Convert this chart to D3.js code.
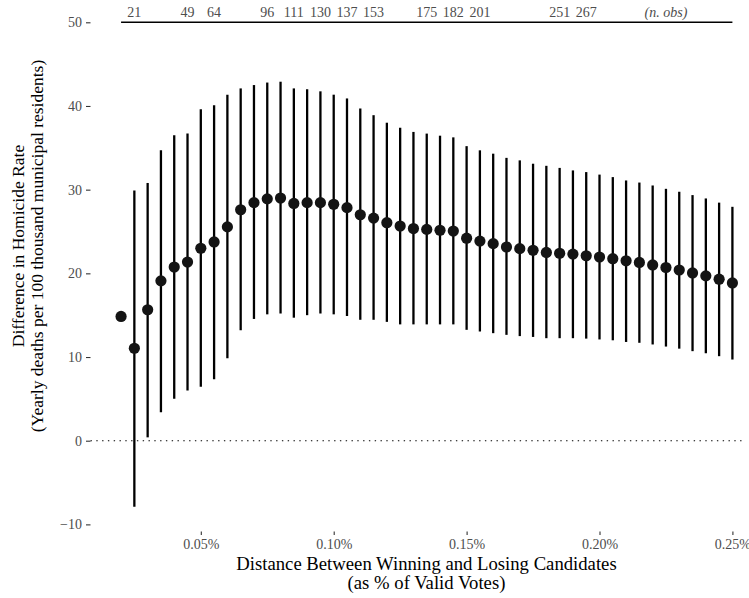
<!DOCTYPE html>
<html>
<head>
<meta charset="utf-8">
<title>Difference in Homicide Rate by bandwidth</title>
<script src="https://cdn.jsdelivr.net/npm/d3@7"></script>
<style>
  body { margin: 0; background: #fff; }
  svg text { font-family: "Liberation Serif", "Times New Roman", serif; }
</style>
</head>
<body>
<svg id="svg"></svg>
<script>

// bandwidths (% of valid votes)
var bandwidth = [0.020, 0.025, 0.030, 0.035, 0.040, 0.045, 0.050, 0.055, 0.060, 0.065,
                 0.070, 0.075, 0.080, 0.085, 0.090, 0.095, 0.100, 0.105, 0.110, 0.115,
                 0.120, 0.125, 0.130, 0.135, 0.140, 0.145, 0.150, 0.155, 0.160, 0.165,
                 0.170, 0.175, 0.180, 0.185, 0.190, 0.195, 0.200, 0.205, 0.210, 0.215,
                 0.220, 0.225, 0.230, 0.235, 0.240, 0.245, 0.250];

// point estimates
var estimate = [14.85, 11.05, 15.65, 19.1, 20.75, 21.35, 23.0, 23.75, 25.55, 27.6,
                28.45, 28.9, 29.0, 28.35, 28.45, 28.45, 28.25, 27.85, 27.0, 26.6,
                26.05, 25.65, 25.35, 25.25, 25.15, 25.05, 24.2, 23.85, 23.55, 23.15,
                22.95, 22.75, 22.5, 22.4, 22.3, 22.1, 21.95, 21.75, 21.5, 21.3,
                21.0, 20.7, 20.4, 20.05, 19.7, 19.3, 18.85];

// confidence interval (first bandwidth has none)
var ciLow = [null, -7.9, 0.4, 3.4, 5.0, 6.0, 6.45, 7.35, 9.85, 13.2,
             14.55, 15.1, 15.2, 14.7, 15.0, 15.2, 15.1, 14.9, 14.45, 14.45,
             14.2, 13.9, 13.9, 13.9, 13.9, 13.9, 13.25, 13.05, 12.85, 12.65,
             12.5, 12.4, 12.25, 12.25, 12.25, 12.2, 12.1, 12.0, 11.8, 11.7,
             11.5, 11.25, 11.0, 10.7, 10.45, 10.1, 9.7];
var ciHigh = [null, 29.9, 30.8, 34.7, 36.5, 36.7, 39.6, 40.1, 41.35, 42.1,
              42.5, 42.8, 42.9, 42.1, 42.0, 41.75, 41.35, 40.9, 39.7, 38.9,
              38.0, 37.4, 36.9, 36.7, 36.45, 36.25, 35.2, 34.7, 34.3, 33.8,
              33.5, 33.1, 32.85, 32.6, 32.3, 32.1, 31.8, 31.5, 31.1, 30.85,
              30.5, 30.1, 29.75, 29.35, 28.95, 28.45, 27.95];

// number of observations shown along the top
var nobsAt = [0.025, 0.045, 0.055, 0.075, 0.085, 0.095, 0.105, 0.115, 0.135, 0.145, 0.155, 0.185, 0.195];
var nobs   = [21, 49, 64, 96, 111, 130, 137, 153, 175, 182, 201, 251, 267];

var xTicks = [0.05, 0.10, 0.15, 0.20, 0.25];
var yTicks = [-10, 0, 10, 20, 30, 40, 50];

var width = 749, height = 598;
var panel = {left: 90.5, right: 755, top: 22.3, bottom: 440.7};

var svg = d3.select("#svg")
    .attr("width", width)
    .attr("height", height);

var data = bandwidth.map(function(b, i) {
    return {x: b, y: estimate[i], lo: ciLow[i], hi: ciHigh[i]};
});

var x = d3.scaleLinear().domain([0.0085, 0.2585]).range([panel.left, panel.right]);
var y = d3.scaleLinear().domain([50, 0]).range([panel.top, panel.bottom]);

// zero reference line
svg.append("line")
    .attr("x1", panel.left).attr("x2", 745)
    .attr("y1", y(0)).attr("y2", y(0))
    .attr("stroke", "#000")
    .attr("stroke-width", 1.1)
    .attr("stroke-dasharray", "1.4,4.4");

// y axis
var axisY = d3.axisLeft(y)
    .tickValues(yTicks)
    .tickSize(4.5)
    .tickPadding(4)
    .tickFormat(function(d) { return d < 0 ? "\u2212" + Math.abs(d) : d; });

var gy = svg.append("g")
    .attr("transform", "translate(" + panel.left + ",0)")
    .call(axisY);
gy.select(".domain").remove();
gy.selectAll(".tick line").attr("stroke", "#333").attr("stroke-width", 1.1);
gy.selectAll(".tick text")
    .attr("fill", "#4d4d4d")
    .style("font-size", "14px")
    .style("font-family", "Liberation Serif, serif");

// x axis
var axisX = d3.axisBottom(x)
    .tickValues(xTicks)
    .tickSize(3.5)
    .tickPadding(4)
    .tickFormat(function(d) { return d3.format(".2f")(d) + "%"; });

var gx = svg.append("g")
    .attr("transform", "translate(0,531.5)")
    .call(axisX);
gx.select(".domain").remove();
gx.selectAll(".tick line").attr("stroke", "#333").attr("stroke-width", 1.1);
gx.selectAll(".tick text")
    .attr("fill", "#4d4d4d")
    .style("font-size", "14px")
    .style("font-family", "Liberation Serif, serif");

// confidence intervals
svg.append("g").selectAll("line")
    .data(data.filter(function(d) { return d.lo !== null; }))
    .enter().append("line")
    .attr("x1", function(d) { return x(d.x); })
    .attr("x2", function(d) { return x(d.x); })
    .attr("y1", function(d) { return y(d.lo); })
    .attr("y2", function(d) { return y(d.hi); })
    .attr("stroke", "#000")
    .attr("stroke-width", 2.3);

// estimates
svg.append("g").selectAll("circle")
    .data(data)
    .enter().append("circle")
    .attr("cx", function(d) { return x(d.x); })
    .attr("cy", function(d) { return y(d.y); })
    .attr("r", 5.6)
    .attr("fill", "#141414");

// top rule with n. obs
svg.append("line")
    .attr("x1", x(bandwidth[0])).attr("x2", x(bandwidth[bandwidth.length - 1]))
    .attr("y1", y(50)).attr("y2", y(50))
    .attr("stroke", "#000")
    .attr("stroke-width", 1.4);

svg.append("g").selectAll("text")
    .data(nobs)
    .enter().append("text")
    .attr("x", function(d, i) { return x(nobsAt[i]); })
    .attr("y", 17)
    .attr("text-anchor", "middle")
    .attr("fill", "#4d4d4d")
    .style("font-size", "14px")
    .text(function(d) { return d; });

svg.append("text")
    .attr("x", x(0.225))
    .attr("y", 17)
    .attr("text-anchor", "middle")
    .attr("fill", "#4d4d4d")
    .style("font-size", "14px")
    .style("font-style", "italic")
    .text("(n. obs)");

// axis titles
var xt = svg.append("text")
    .attr("x", 426.5)
    .attr("text-anchor", "middle")
    .style("font-size", "18.7px");
xt.append("tspan").attr("x", 426.5).attr("y", 570).text("Distance Between Winning and Losing Candidates");
xt.append("tspan").attr("x", 426.5).attr("y", 589).text("(as % of Valid Votes)");

var yt = svg.append("text")
    .attr("transform", "translate(0,246) rotate(-90)")
    .attr("text-anchor", "middle")
    .style("font-size", "17.5px");
yt.append("tspan").attr("x", 0).attr("y", 24).text("Difference in Homicide Rate");
yt.append("tspan").attr("x", 0).attr("y", 43).text("(Yearly deaths per 100 thousand municipal residents)");

</script>
</body>
</html>
